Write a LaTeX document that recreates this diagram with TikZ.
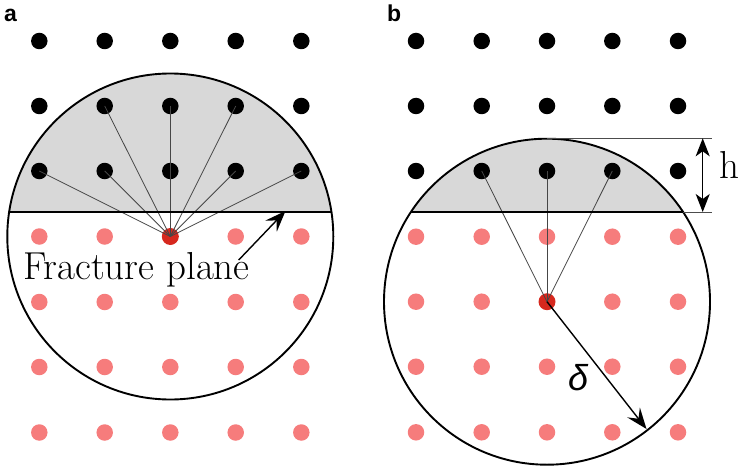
\documentclass[tikz,border=0pt]{standalone}
\usepackage{fontspec}
\usetikzlibrary{arrows.meta}
\newfontfamily\labfont{Liberation Sans}
\definecolor{segGray}{RGB}{216,216,216}
\definecolor{dotRed}{RGB}{246,124,124}
\definecolor{ctrRed}{RGB}{214,40,30}
\definecolor{linkGray}{RGB}{70,70,70}
\tikzset{
  bdot/.style={circle,fill=black,inner sep=0pt,minimum size=16.5pt},
  rdot/.style={circle,fill=dotRed,inner sep=0pt,minimum size=16.5pt},
  cdot/.style={circle,fill=ctrRed,inner sep=0pt,minimum size=17pt},
  link/.style={linkGray,line width=0.8pt},
  rim/.style={black,line width=1.9pt},
  plane/.style={black,line width=2.4pt},
  dimline/.style={black!70,line width=0.7pt},
  arrowone/.style={-{Stealth[length=21pt,width=16pt,inset=8pt]},line width=1.4pt},
  arrowtwo/.style={{Stealth[length=18pt,width=14pt,inset=5pt]}-{Stealth[length=18pt,width=14pt,inset=5pt]},line width=1.4pt},
  lab/.style={font=\labfont\bfseries\fontsize{23}{23}\selectfont,inner sep=0pt,anchor=base west},
  big/.style={font=\fontsize{39}{39}\selectfont,inner sep=0pt,anchor=base west}
}
\begin{document}
\begin{tikzpicture}[x=1pt,y=-1pt]
\useasboundingbox (0,0) rectangle (738,468);
% ---------- shaded caps ----------
\begin{scope}
  \clip (170.3,236.5) circle (163);
  \fill[segGray] (0,0) rectangle (340,212);
\end{scope}
\begin{scope}
  \clip (547,301.7) circle (163);
  \fill[segGray] (370,0) rectangle (738,212);
\end{scope}
% dots panel a
\foreach \i/\x in {1/39.3,2/104.7,3/170.3,4/235.7,5/301.3}{
  \node[bdot] (a1\i) at (\x,41) {};
  \node[bdot] (a2\i) at (\x,106) {};
  \node[bdot] (a3\i) at (\x,171) {};
  \node[rdot] (a5\i) at (\x,302) {};
  \node[rdot] (a6\i) at (\x,367) {};
  \node[rdot] (a7\i) at (\x,432.5) {};
}
\foreach \i/\x in {1/39.3,2/104.7,4/235.7,5/301.3}{
  \node[rdot] (a4\i) at (\x,236.5) {};
}
\node[cdot] (ac) at (170.3,236.5) {};
% dots panel b
\foreach \i/\x in {1/416,2/481.7,3/547,4/612.3,5/678}{
  \node[bdot] (b1\i) at (\x,41) {};
  \node[bdot] (b2\i) at (\x,106) {};
  \node[bdot] (b3\i) at (\x,171) {};
  \node[rdot] (b4\i) at (\x,236.7) {};
  \node[rdot] (b6\i) at (\x,366.7) {};
  \node[rdot] (b7\i) at (\x,432.3) {};
}
\foreach \i/\x in {1/416,2/481.7,4/612.3,5/678}{
  \node[rdot] (b5\i) at (\x,301.7) {};
}
\node[cdot] (bc) at (547,301.7) {};
% links
\foreach \n in {a31,a32,a33,a34,a35,a22,a23,a24}{
  \draw[link] (ac.center) -- (\n.center);
}
\foreach \n in {b32,b33,b34}{
  \draw[link] (bc.center) -- (\n.center);
}
% circles
\node[circle,draw,rim,inner sep=0pt,minimum size=326pt] (ca) at (170.3,236.5) {};
\node[circle,draw,rim,inner sep=0pt,minimum size=326pt] (cb) at (547,301.7) {};
% fracture planes
\coordinate (aL) at (9.2,212);
\coordinate (aR) at (331.4,212);
\coordinate (bL) at (411,212);
\coordinate (bR) at (683,212);
\draw[plane] (aL) -- (aR);
\draw[plane] (bL) -- (bR);
% labels
\node[lab] (la) at (4,22) {a};
\node[lab] (lb) at (387,22) {b};
% fracture plane text and arrow
\node[big] (fp) at (23,279) {Fracture plane};
\coordinate (fpS) at (238.7,260);
\coordinate (fpT) at (285.5,211);
\draw[arrowone] (fpS) -- (fpT);
% h dimension
\coordinate (top) at (547,138.3);
\coordinate (topE) at (711.7,138.3);
\coordinate (botE) at (711.7,212);
\coordinate (hT) at (702.7,138.3);
\coordinate (hB) at (702.7,212);
\draw[dimline] (top) -- (topE);
\draw[dimline] (bR) -- (botE);
\draw[arrowtwo] (hT) -- (hB);
\node[big] (h) at (719,178.3) {h};
% delta radius
\coordinate (dT) at (646.5,429);
\draw[arrowone] (bc.center) -- (dT);
\node[font=\labfont\itshape\fontsize{36}{36}\selectfont,inner sep=0pt] (d) at (578,378) {δ};
\end{tikzpicture}
\end{document}
